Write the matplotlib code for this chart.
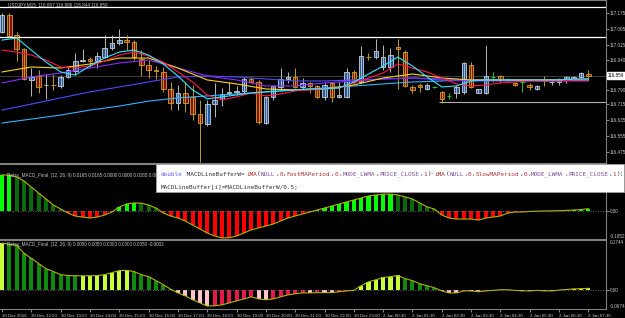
import numpy as np
import matplotlib.pyplot as plt
from matplotlib.patches import Rectangle
from matplotlib.transforms import blended_transform_factory

plt.rcParams["font.family"] = ["Liberation Sans", "DejaVu Sans"]

W, H = 625, 318

# ---------------------------------------------------------------- data
time_labels = [
    "30 Dec 2016", "30 Dec 12:00", "30 Dec 13:00", "30 Dec 14:00", "30 Dec 15:00",
    "30 Dec 16:00", "30 Dec 17:00", "30 Dec 18:00", "30 Dec 19:00", "30 Dec 20:00",
    "30 Dec 21:00", "30 Dec 22:00", "30 Dec 23:00", "2 Jan 00:30", "2 Jan 01:30",
    "2 Jan 02:30", "2 Jan 03:30", "2 Jan 04:30", "2 Jan 05:30", "2 Jan 06:30",
    "2 Jan 07:30",
]

opens = [
    117.079, 117.164, 117.063, 116.993, 116.838, 116.858, 116.813, 116.813, 116.808, 116.853,
    116.883, 116.933, 116.943, 116.933, 116.953, 116.998, 117.023, 117.038, 117.028, 116.943,
    116.913, 116.888, 116.878, 116.793, 116.722, 116.773, 116.753, 116.667, 116.617, 116.717,
    116.743, 116.773, 116.778, 116.783, 116.843, 116.828, 116.622, 116.753, 116.803, 116.843,
    116.853, 116.803, 116.823, 116.808, 116.753, 116.823, 116.753, 116.753, 116.878, 116.828,
    116.953, 116.953, 116.903, 116.903, 117.003, 116.978, 116.803, 116.813, 116.793, 116.803,
    116.778, 116.758, 116.773, 116.778, 116.913, 116.773, 116.773, 116.853, 116.858, 116.838,
    116.823, 116.828, 116.813, 116.793, 116.833, 116.828, 116.828, 116.838, 116.843, 116.853,
    116.867,
]
highs = [
    117.174, 117.174, 117.079, 116.998, 116.898, 116.888, 116.868, 116.868, 116.863, 116.908,
    116.973, 116.993, 116.953, 116.978, 117.063, 117.063, 117.094, 117.063, 117.038, 116.988,
    116.938, 116.908, 116.903, 116.828, 116.813, 116.828, 116.813, 116.738, 116.738, 116.823,
    116.798, 116.828, 116.808, 116.853, 116.853, 116.838, 116.758, 116.813, 116.898, 116.878,
    116.898, 116.848, 116.828, 116.813, 116.828, 116.828, 116.828, 116.898, 116.888, 117.008,
    116.973, 117.043, 117.013, 116.998, 117.043, 116.988, 116.813, 116.823, 116.823, 116.808,
    116.783, 116.773, 116.813, 116.928, 116.928, 116.793, 117.013, 116.878, 116.863, 116.848,
    116.828, 116.838, 116.823, 116.813, 116.858, 116.838, 116.848, 116.858, 116.858, 116.878,
    116.886,
]
lows = [
    117.074, 117.053, 116.933, 116.838, 116.758, 116.773, 116.743, 116.788, 116.798, 116.848,
    116.863, 116.928, 116.903, 116.898, 116.948, 116.988, 117.013, 116.988, 116.938, 116.858,
    116.848, 116.843, 116.778, 116.687, 116.687, 116.677, 116.637, 116.428, 116.607, 116.652,
    116.707, 116.763, 116.763, 116.773, 116.823, 116.617, 116.617, 116.738, 116.788, 116.823,
    116.798, 116.793, 116.773, 116.748, 116.738, 116.728, 116.748, 116.748, 116.818, 116.823,
    116.938, 116.943, 116.888, 116.878, 116.793, 116.803, 116.773, 116.778, 116.788, 116.798,
    116.722, 116.743, 116.748, 116.768, 116.798, 116.773, 116.768, 116.828, 116.823, 116.828,
    116.808, 116.778, 116.788, 116.788, 116.808, 116.813, 116.813, 116.823, 116.838, 116.848,
    116.844,
]
closes = [
    117.164, 117.058, 116.993, 116.843, 116.853, 116.803, 116.814, 116.812, 116.853, 116.888,
    116.933, 116.938, 116.933, 116.958, 116.998, 117.023, 117.038, 117.028, 116.953, 116.913,
    116.888, 116.885, 116.793, 116.722, 116.773, 116.722, 116.667, 116.622, 116.717, 116.738,
    116.768, 116.778, 116.783, 116.843, 116.828, 116.627, 116.753, 116.808, 116.843, 116.853,
    116.803, 116.823, 116.808, 116.753, 116.813, 116.753, 116.763, 116.878, 116.828, 116.958,
    116.951, 116.983, 116.953, 116.963, 116.993, 116.808, 116.788, 116.803, 116.813, 116.803,
    116.743, 116.758, 116.803, 116.923, 116.803, 116.793, 116.858, 116.853, 116.838, 116.838,
    116.813, 116.828, 116.803, 116.808, 116.832, 116.829, 116.838, 116.853, 116.853, 116.873,
    116.859,
]

# moving averages (fast ones every 2 bars, slow ones every 4 bars)
cyan_ma = [
    117.038, 117.048, 116.988, 116.928, 116.878, 116.863, 116.908, 116.948, 116.978, 116.988,
    116.963, 116.918, 116.858, 116.788, 116.743, 116.753, 116.763, 116.773, 116.778, 116.783,
    116.788, 116.793, 116.793, 116.798, 116.828, 116.868, 116.908, 116.953, 116.908, 116.853,
    116.803, 116.808, 116.833, 116.838, 116.838, 116.838, 116.838, 116.838, 116.838, 116.843,
    116.843,
]
red_ma = [
    116.988, 116.978, 116.963, 116.938, 116.903, 116.898, 116.908, 116.933, 116.963, 116.978,
    116.958, 116.928, 116.878, 116.828, 116.763, 116.738, 116.753, 116.773, 116.758, 116.768,
    116.783, 116.788, 116.793, 116.798, 116.823, 116.848, 116.873, 116.918, 116.898, 116.878,
    116.848, 116.818, 116.808, 116.813, 116.823, 116.828, 116.833, 116.833, 116.833, 116.838,
    116.838,
]
yellow_ma = [
    116.878, 116.903, 116.898, 116.918, 116.948, 116.948, 116.898, 116.838, 116.818, 116.793,
    116.788, 116.793, 116.813, 116.848, 116.868, 116.848, 116.838, 116.838, 116.838, 116.838,
    116.838,
]
purple_ma = [
    116.823, 116.853, 116.873, 116.898, 116.923, 116.938, 116.898, 116.858, 116.838, 116.808,
    116.808, 116.823, 116.833, 116.843, 116.848, 116.838, 116.833, 116.833, 116.833, 116.833,
    116.833,
]
violet_ma = [
    116.687, 116.717, 116.748, 116.778, 116.803, 116.828, 116.853, 116.858, 116.853, 116.843,
    116.833, 116.833, 116.838, 116.843, 116.848, 116.843, 116.838, 116.838, 116.838, 116.838,
    116.838,
]
sky_ma = [
    116.622, 116.642, 116.662, 116.687, 116.707, 116.732, 116.748, 116.758, 116.768, 116.778,
    116.788, 116.798, 116.808, 116.818, 116.828, 116.833, 116.838, 116.838, 116.838, 116.838,
    116.843,
]

price_levels = [117.175, 117.095, 117.015, 116.940, 116.790, 116.715, 116.635, 116.555, 116.475]
white_lines = [117.204, 117.053]
gray_line = 116.727
gray_line_start = 59.6
last_price = 116.859
title = "USDJPY,M15  116.867 116.886 116.844 116.859"

macd_a = [
    0.251, 0.251, 0.237, 0.209, 0.167, 0.125, 0.084, 0.042, 0.014, -0.014,
    -0.035, -0.042, -0.049, -0.042, -0.028, -0.007, 0.028, 0.049, 0.056, 0.055,
    0.042, 0.021, -0.014, -0.035, -0.049, -0.070, -0.098, -0.125, -0.153, -0.174,
    -0.188, -0.186, -0.174, -0.153, -0.132, -0.118, -0.105, -0.091, -0.070, -0.049,
    -0.035, -0.021, -0.007, 0.007, 0.021, 0.035, 0.049, 0.063, 0.077, 0.091,
    0.105, 0.112, 0.118, 0.118, 0.112, 0.098, 0.084, 0.056, 0.028, 0.014,
    -0.028, -0.049, -0.056, -0.056, -0.056, -0.063, -0.049, -0.042, -0.035, -0.014,
    -0.007, -0.007, -0.003, -0.001, 0.000, 0.001, 0.002, 0.004, 0.007, 0.010,
    0.0165,
]
macd_b = [
    0.163, 0.160, 0.156, 0.128, 0.110, 0.092, 0.074, 0.064, 0.053, 0.050,
    0.049, 0.049, 0.049, 0.050, 0.053, 0.060, 0.067, 0.068, 0.064, 0.053,
    0.046, 0.032, 0.018, 0.002, -0.011, -0.021, -0.035, -0.046, -0.057, -0.056,
    -0.053, -0.046, -0.039, -0.032, -0.025, -0.032, -0.035, -0.032, -0.025, -0.018,
    -0.014, -0.011, -0.011, -0.010, -0.010, -0.010, -0.007, -0.004, -0.002, 0.014,
    0.028, 0.035, 0.043, 0.046, 0.050, 0.039, 0.032, 0.021, 0.014, 0.007,
    -0.004, -0.011, -0.011, -0.004, -0.004, -0.007, -0.004, -0.002, 0.000, 0.000,
    -0.002, -0.004, -0.004, -0.002, -0.004, -0.004, -0.001, 0.001, 0.003, 0.004,
    0.005,
]
macd_a_range = (-0.1952, 0.3277)
macd_b_range = (-0.0674, 0.1744)
legend_a = "Relax_MACD_Final  (12, 26, 9) 0.0165 0.0165 0.0000 0.0000 0.0165 0.0000"
legend_b = "Relax_MACD_Final  (12, 26, 9) 0.0050 0.0050 0.0000 0.0000 0.0050 -0.0002"

code_line1 = [
    ("double", "#5a5aff"), (" MACDLineBufferW=", "#303040"), ("iMA", "#b02020"),
    ("(", "#303040"), ("NULL", "#7a4aa0"), (",", "#303040"), ("0", "#c03030"), (",", "#303040"),
    ("FastMAPeriod", "#b03030"), (",", "#303040"), ("0", "#c03030"), (",", "#303040"),
    ("MODE_LWMA", "#7a4aa0"), (",", "#303040"), ("PRICE_CLOSE", "#7a4aa0"), (",", "#303040"),
    ("1", "#c03030"), (")-", "#303040"), ("iMA", "#b02020"), ("(", "#303040"),
    ("NULL", "#7a4aa0"), (",", "#303040"), ("0", "#c03030"), (",", "#303040"),
    ("SlowMAPeriod", "#b03030"), (",", "#303040"), ("0", "#c03030"), (",", "#303040"),
    ("MODE_LWMA", "#7a4aa0"), (",", "#303040"), ("PRICE_CLOSE", "#7a4aa0"), (",", "#303040"),
    ("1", "#c03030"), (");", "#303040"),
]
code_line2 = [("MACDLineBuffer[i]=MACDLineBufferW/0.5;", "#303040")]

# ---------------------------------------------------------------- style
TXT = "#c8c8c8"
FRAME = "#808080"
BULL_FILL, BULL_EDGE = "#1f5aa6", "#d4d4d4"
BEAR_FILL, BEAR_EDGE = "#8c0e0e", "#d8a420"
DOJI = "#22c022"

fig = plt.figure(figsize=(W / 100, H / 100), dpi=100, facecolor="black")


def rect(x0, y0, x1, y1):
    # pixel box, origin top-left -> figure fraction
    return [x0 / W, 1 - y1 / H, (x1 - x0) / W, (y1 - y0) / H]


ax = fig.add_axes(rect(0, 0, 606, 163))
ax1 = fig.add_axes(rect(0, 164, 606, 239), sharex=ax)
ax2 = fig.add_axes(rect(0, 240, 606, 309), sharex=ax)

for a in (ax, ax1, ax2):
    a.set_facecolor("black")
    for s in a.spines.values():
        s.set_color(FRAME)
        s.set_linewidth(0.8)
    a.spines["left"].set_visible(False)
    a.yaxis.tick_right()
    a.tick_params(axis="y", colors=TXT, labelsize=3.3, length=2, width=0.5, pad=1)
    a.tick_params(axis="x", bottom=False, labelbottom=False)

n = len(opens)
x = np.arange(n)
ax.set_xlim(-0.27, 82.4)

# ---- price panel
o, h, l, c = (np.array(v) for v in (opens, highs, lows, closes))
up, dn, flat = c > o, c < o, c == o

ax.axhline(last_price, color="#3c3c3c", lw=0.7, zorder=0)
for y in white_lines:
    ax.axhline(y, color="white", lw=0.9)
ax.hlines(gray_line, gray_line_start, 83, color="#b0b0b0", lw=0.8)

ax.vlines(x[up], l[up], h[up], color="#b8b8b8", lw=0.7)
ax.vlines(x[dn], l[dn], h[dn], color="#b8a020", lw=0.7)
ax.vlines(x[flat], l[flat], h[flat], color=DOJI, lw=0.7)
ax.bar(x[up], (c - o)[up], bottom=o[up], width=0.62, color=BULL_FILL,
       edgecolor=BULL_EDGE, linewidth=0.6)
ax.bar(x[dn], (o - c)[dn], bottom=c[dn], width=0.62, color=BEAR_FILL,
       edgecolor=BEAR_EDGE, linewidth=0.6)
ax.hlines(o[flat], x[flat] - 0.31, x[flat] + 0.31, color=DOJI, lw=0.8)

x2 = np.arange(0, n, 2)
x4 = np.arange(0, n, 4)
ax.plot(x4, sky_ma, color="#30b4ff", lw=0.8)
ax.plot(x4, violet_ma, color="#4a4aff", lw=0.8)
ax.plot(x4, purple_ma, color="#8a2cff", lw=0.8)
ax.plot(x4, yellow_ma, color="#ffd21e", lw=0.8)
ax.plot(x2, red_ma, color="#ff1848", lw=0.8)
ax.plot(x2, cyan_ma, color="#2ee6ff", lw=0.8)

ax.set_ylim(116.4216, 117.239)
ax.set_yticks(price_levels)
ax.set_yticklabels([f"{v:.3f}" for v in price_levels])

tr = blended_transform_factory(ax.transAxes, ax.transData)
ax.text(1.003, last_price, f"{last_price:.3f}", transform=tr, fontsize=3.3, color="black",
        va="center", ha="left", clip_on=False,
        bbox=dict(boxstyle="square,pad=0.2", fc="white", ec="white"))
ax.text(0.013, 0.985, title, transform=ax.transAxes, fontsize=3.3, color=TXT, va="top")


# ---- indicator panels
def hist_panel(a, vals, rng, colors, legend, legend_y, lo_lbl, hi_lbl):
    v = np.array(vals)
    a.axhline(0, color=FRAME, lw=0.6, ls=(0, (1, 2)))
    a.bar(x, v, width=0.55, color=colors)
    a.plot(x, v, color="#b4b400", lw=0.8)
    a.set_ylim(*rng)
    a.set_yticks([0])
    a.set_yticklabels(["0.00"])
    t = blended_transform_factory(a.transAxes, a.transData)
    a.text(1.006, rng[0], lo_lbl, transform=t, fontsize=3.3, color=TXT, va="bottom", clip_on=False)
    a.text(1.006, rng[1], hi_lbl, transform=t, fontsize=3.3, color=TXT, va="top", clip_on=False)
    a.text(0.011, legend_y, legend, transform=a.transAxes, fontsize=3.3, color=TXT, va="center")


va = np.array(macd_a)
prev_a = np.r_[va[0], va[:-1]]
cols_a = ["#00ff00" if (v >= 0 and v >= p) else "#0b6a0b" if v >= 0 else "#ff0000"
          for v, p in zip(va, prev_a)]
hist_panel(ax1, macd_a, macd_a_range, cols_a, legend_a, 0.85, "-0.1952", "0.3277")

vb = np.array(macd_b)
prev_b = np.r_[vb[0], vb[:-1]]
cols_b = []
for v, p in zip(vb, prev_b):
    if v >= 0:
        cols_b.append("#c8ff3c" if v >= p else "#0e8a0e")
    else:
        cols_b.append("#ffc4cc" if v <= p else "#e8184a")
hist_panel(ax2, macd_b, macd_b_range, cols_b, legend_b, 0.93, "-0.0674", "0.1744")

ax2.set_xticks(np.arange(0, n, 4))
ax2.set_xticklabels(time_labels, ha="left")
ax2.tick_params(axis="x", bottom=True, labelbottom=True, labelsize=3.2, colors=TXT,
                length=2, width=0.5, pad=1.5)

# ---- code snippet overlay
fig.patches.append(Rectangle((156 / W, 1 - 192 / H), (624 - 156) / W, 28 / H,
                             transform=fig.transFigure, fc="white", ec="#a0a0a0",
                             lw=0.6, zorder=10))


def code_line(tokens, x0, y0):
    cw = 3.7
    col = 0
    for text, color in tokens:
        fig.text((x0 + col * cw) / W, 1 - y0 / H, text, family="DejaVu Sans Mono",
                 fontsize=4.33, color=color, va="center", zorder=11)
        col += len(text)


code_line(code_line1, 161, 174)
code_line(code_line2, 161, 187)

fig.savefig("out.png", dpi=100, facecolor="black")
